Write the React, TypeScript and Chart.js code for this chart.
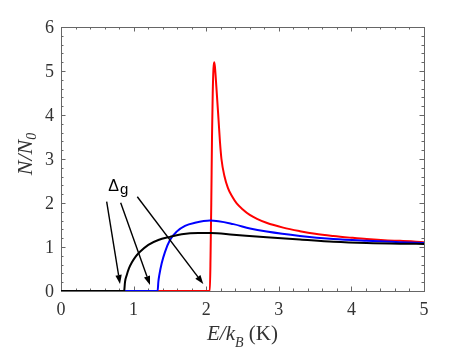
import React, { useEffect, useRef } from "react";
import { Chart, registerables } from "chart.js";
Chart.register(...registerables);

const blackX = [0, 0.87, 0.872, 0.882, 0.905, 0.937, 0.973, 1.028, 1.088, 1.203, 1.341, 1.501, 1.662, 1.892, 2.06, 2.374, 2.833, 3.292, 3.751, 4.21, 4.67, 5.0];
const blackY = [0, 0, 0.02, 0.21, 0.36, 0.52, 0.64, 0.78, 0.89, 1.05, 1.16, 1.23, 1.29, 1.32, 1.32, 1.28, 1.22, 1.17, 1.12, 1.09, 1.075, 1.07];

const blueX = [0, 1.331, 1.341, 1.354, 1.387, 1.433, 1.501, 1.593, 1.708, 1.846, 2.052, 2.374, 2.603, 2.833, 3.292, 3.751, 4.21, 4.67, 5.0];
const blueY = [0, 0, 0.21, 0.36, 0.63, 0.89, 1.16, 1.35, 1.48, 1.55, 1.6, 1.52, 1.42, 1.35, 1.25, 1.18, 1.14, 1.11, 1.09];

const redX = [0, 2.05, 2.06, 2.07, 2.08, 2.09, 2.1, 2.11, 2.12, 2.14, 2.17, 2.19, 2.21, 2.25, 2.3, 2.36, 2.42, 2.5, 2.6, 2.7, 2.83, 3.06, 3.29, 3.5, 3.75, 4.0, 4.21, 4.5, 4.67, 5.0];
const redY = [0, 0, 0.8, 2.0, 3.5, 4.5, 5.05, 5.2, 5.1, 4.64, 3.89, 3.38, 3.0, 2.62, 2.34, 2.14, 1.99, 1.86, 1.73, 1.64, 1.55, 1.44, 1.36, 1.3, 1.25, 1.21, 1.18, 1.15, 1.14, 1.11];

const xTicks = [0, 1, 2, 3, 4, 5];
const yTicks = [0, 1, 2, 3, 4, 5, 6];

// annotation arrows in data units
const arrowStartX = [0.629, 0.822, 1.051];
const arrowStartY = [2.03, 2.007, 2.143];
const arrowEndX = [0.813, 1.226, 1.96];
const arrowEndY = [0.159, 0.136, 0.159];
const labelMain = "Δ";
const labelSub = "g";
const labelX = 0.651;
const labelY = 2.27;

const SERIF = "'Liberation Serif', 'Times New Roman', serif";

const pts = (xs: number[], ys: number[]) => xs.map((x, i) => ({ x, y: ys[i] }));

const frameTicks = {
  id: "frameTicks",
  beforeDatasetsDraw(chart: any) {
    const { ctx, chartArea: a, scales } = chart;
    const xs = scales.x, ys = scales.y;
    ctx.save();
    ctx.strokeStyle = "#666";
    ctx.lineWidth = 1;
    ctx.beginPath();
    for (let i = 0; i <= 25; i++) {
      const v = i / 5;
      const len = i % 5 === 0 ? 4.5 : 2.5;
      const px = Math.round(xs.getPixelForValue(v)) + 0.5;
      ctx.moveTo(px, a.bottom); ctx.lineTo(px, a.bottom - len);
      ctx.moveTo(px, a.top); ctx.lineTo(px, a.top + len);
    }
    for (let i = 0; i <= 30; i++) {
      const v = i / 5;
      const len = i % 5 === 0 ? 4.5 : 2.5;
      const py = Math.round(ys.getPixelForValue(v)) + 0.5;
      ctx.moveTo(a.left, py); ctx.lineTo(a.left + len, py);
      ctx.moveTo(a.right, py); ctx.lineTo(a.right - len, py);
    }
    ctx.stroke();
    ctx.strokeRect(Math.round(a.left) + 0.5, Math.round(a.top) + 0.5, Math.round(a.right - a.left), Math.round(a.bottom - a.top));

    // tick labels
    ctx.fillStyle = "#333";
    ctx.font = "18px " + SERIF;
    ctx.textAlign = "center";
    ctx.textBaseline = "alphabetic";
    for (const v of xTicks) {
      ctx.fillText(String(v), xs.getPixelForValue(v), a.bottom + 24);
    }
    ctx.textAlign = "right";
    for (const v of yTicks) {
      ctx.fillText(String(v), a.left - 7, ys.getPixelForValue(v) + 6);
    }
    ctx.restore();
  },
};

const annotations = {
  id: "annotations",
  afterDatasetsDraw(chart: any) {
    const { ctx, scales } = chart;
    const xs = scales.x, ys = scales.y;
    ctx.save();
    ctx.strokeStyle = "#000";
    ctx.fillStyle = "#000";
    ctx.lineWidth = 1.4;
    for (let i = 0; i < arrowStartX.length; i++) {
      const x0 = xs.getPixelForValue(arrowStartX[i]);
      const y0 = ys.getPixelForValue(arrowStartY[i]);
      const x1 = xs.getPixelForValue(arrowEndX[i]);
      const y1 = ys.getPixelForValue(arrowEndY[i]);
      const ang = Math.atan2(y1 - y0, x1 - x0);
      const hl = 9, hw = 3.2;
      const bx = x1 - hl * Math.cos(ang), by = y1 - hl * Math.sin(ang);
      ctx.beginPath();
      ctx.moveTo(x0, y0);
      ctx.lineTo(bx, by);
      ctx.stroke();
      ctx.beginPath();
      ctx.moveTo(x1, y1);
      ctx.lineTo(bx + hw * Math.sin(ang), by - hw * Math.cos(ang));
      ctx.lineTo(bx - hw * Math.sin(ang), by + hw * Math.cos(ang));
      ctx.closePath();
      ctx.fill();
    }
    const lx = xs.getPixelForValue(labelX);
    const ly = ys.getPixelForValue(labelY);
    ctx.textBaseline = "alphabetic";
    ctx.textAlign = "left";
    ctx.font = "16px 'Liberation Sans', Arial, sans-serif";
    ctx.fillText(labelMain, lx, ly);
    const w = ctx.measureText(labelMain).width;
    ctx.font = "15px 'Liberation Sans', Arial, sans-serif";
    ctx.fillText(labelSub, lx + w + 1, ly + 3);
    ctx.restore();
  },
};

type Part = { t: string; font: string; dy: number };
function drawParts(ctx: CanvasRenderingContext2D, parts: Part[], cx: number, baseY: number) {
  let total = 0;
  for (const p of parts) { ctx.font = p.font; total += ctx.measureText(p.t).width; }
  let x = cx - total / 2;
  for (const p of parts) {
    ctx.font = p.font;
    ctx.fillText(p.t, x, baseY + p.dy);
    x += ctx.measureText(p.t).width;
  }
}

const titles = {
  id: "titles",
  afterDraw(chart: any) {
    const { ctx, chartArea: a } = chart;
    ctx.save();
    ctx.fillStyle = "#333";
    ctx.textAlign = "left";
    ctx.textBaseline = "alphabetic";
    const it = "italic 21px " + SERIF;
    const its = "italic 14px " + SERIF;
    const up = "21px " + SERIF;
    drawParts(ctx, [
      { t: "E/k", font: it, dy: 0 },
      { t: "B", font: its, dy: 7 },
      { t: " (K)", font: up, dy: 0 },
    ], (a.left + a.right) / 2, 340);
    ctx.translate(32, 154);
    ctx.rotate(-Math.PI / 2);
    drawParts(ctx, [
      { t: "N/N", font: "italic 22px " + SERIF, dy: 0 },
      { t: "0", font: its, dy: 4 },
    ], 0, 0);
    ctx.restore();
  },
};

export default function App() {
  const ref = useRef<HTMLCanvasElement>(null);
  useEffect(() => {
    const chart = new Chart(ref.current!, {
      type: "line",
      data: {
        datasets: [
          { label: "black", data: pts(blackX, blackY), borderColor: "#000", order: 0 },
          { label: "blue", data: pts(blueX, blueY), borderColor: "#0000ff", order: 1 },
          { label: "red", data: pts(redX, redY), borderColor: "#ff0000", order: 2 },
        ],
      },
      options: {
        responsive: false,
        animation: false,
        devicePixelRatio: 1,
        layout: { padding: { left: 0, top: 27, right: 45, bottom: 0 } },
        elements: {
          point: { radius: 0 },
          line: { borderWidth: 2, cubicInterpolationMode: "monotone", fill: false },
        },
        plugins: { legend: { display: false }, tooltip: { enabled: false } },
        scales: {
          x: {
            type: "linear",
            min: 0,
            max: 5,
            afterFit: (s: any) => { s.height = 61; },
            afterBuildTicks: (s: any) => { s.ticks = xTicks.map((v) => ({ value: v })); },
            grid: { display: false, drawTicks: false },
            border: { display: false },
            ticks: { display: false },
          },
          y: {
            type: "linear",
            min: 0,
            max: 6,
            afterFit: (s: any) => { s.width = 61; },
            afterBuildTicks: (s: any) => { s.ticks = yTicks.map((v) => ({ value: v })); },
            grid: { display: false, drawTicks: false },
            border: { display: false },
            ticks: { display: false },
          },
        },
      },
      plugins: [frameTicks, annotations, titles],
    });
    return () => chart.destroy();
  }, []);
  return (
    <div style={{ position: "fixed", left: 0, top: 0, width: 469, height: 352, background: "#fff" }}>
      <canvas ref={ref} width={469} height={352} />
    </div>
  );
}
